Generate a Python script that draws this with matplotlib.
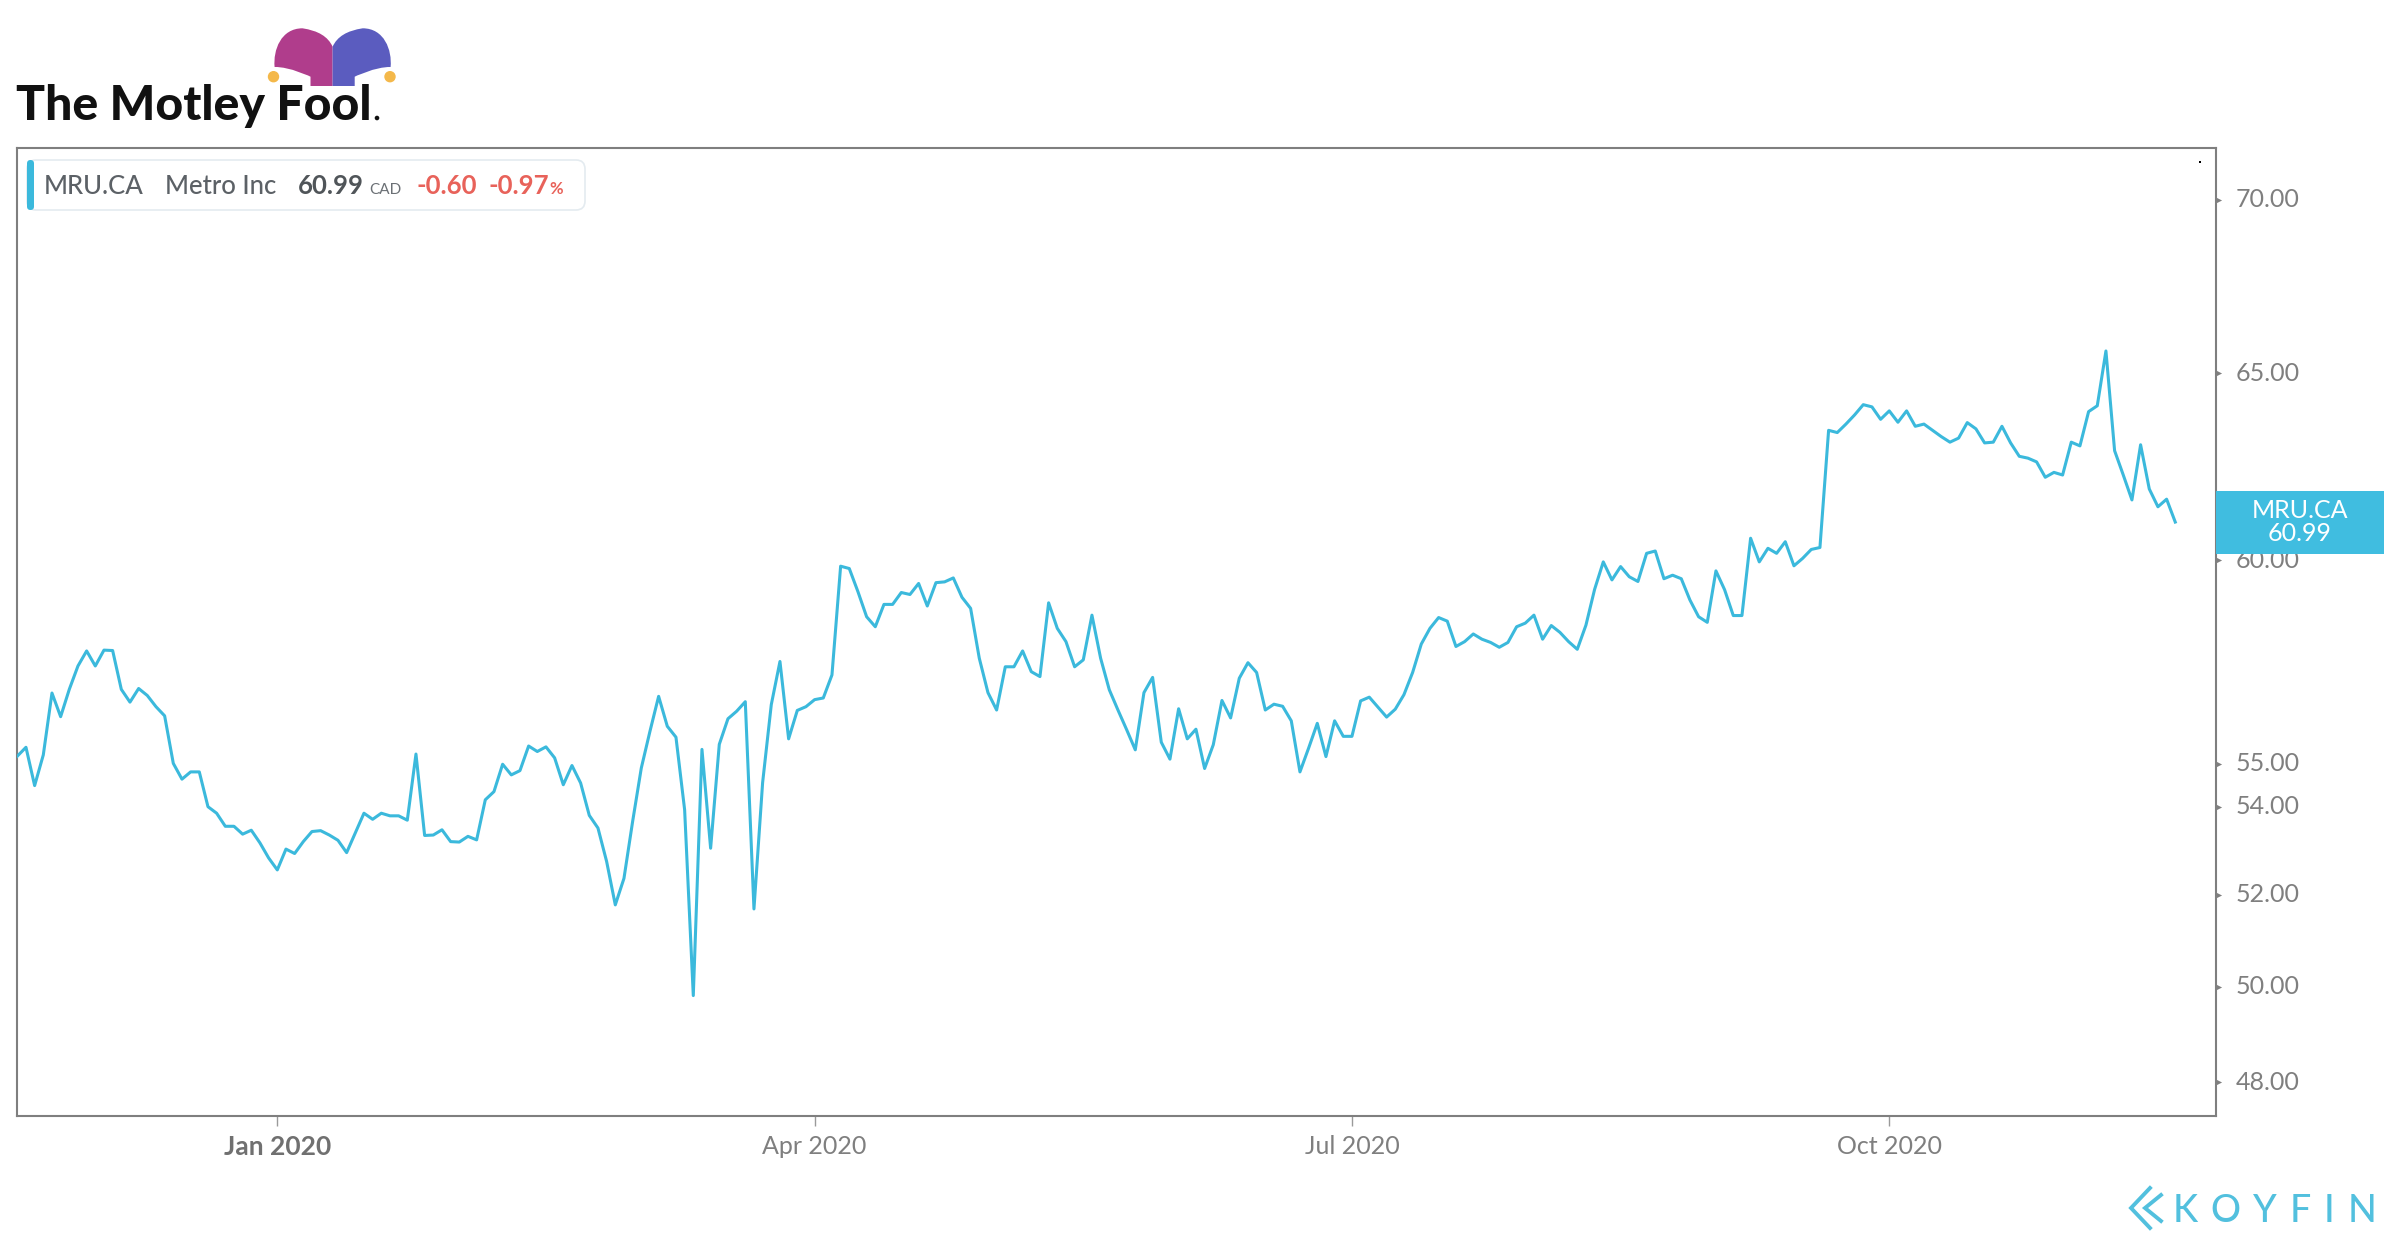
import numpy as np
import matplotlib
matplotlib.use("Agg")
import matplotlib.pyplot as plt
from matplotlib import transforms
from matplotlib.patches import FancyBboxPatch, Rectangle, PathPatch, Circle
from matplotlib.path import Path
from matplotlib.ticker import NullLocator, FixedLocator, FixedFormatter

# ---------------- data ----------------
ticker_symbol = "MRU.CA"
company = "Metro Inc"
currency = "CAD"
change = "-0.60"
change_pct = "-0.97"

close = [
    55.18, 55.39, 54.49, 55.21, 56.69, 56.12, 56.78, 57.35, 57.72, 57.35,
    57.74, 57.73, 56.78, 56.47, 56.80, 56.63, 56.36, 56.14, 55.01, 54.64,
    54.81, 54.81, 54.00, 53.85, 53.55, 53.55, 53.37, 53.46, 53.17, 52.83,
    52.56, 53.03, 52.93, 53.20, 53.43, 53.45, 53.35, 53.23, 52.95, 53.40,
    53.85, 53.71, 53.85, 53.79, 53.79, 53.69, 55.23, 53.34, 53.35, 53.47,
    53.20, 53.19, 53.32, 53.24, 54.16, 54.35, 54.99, 54.74, 54.84, 55.42,
    55.29, 55.40, 55.14, 54.51, 54.96, 54.55, 53.80, 53.51, 52.75, 51.78,
    52.37, 53.66, 54.90, 55.77, 56.61, 55.89, 55.63, 53.93, 49.81, 55.34,
    53.05, 55.46, 56.07, 56.25, 56.48, 51.69, 54.56, 56.41, 57.46, 55.59,
    56.27, 56.36, 56.53, 56.57, 57.13, 59.85, 59.79, 59.20, 58.57, 58.32,
    58.88, 58.88, 59.18, 59.13, 59.41, 58.84, 59.43, 59.45, 59.55, 59.06,
    58.78, 57.54, 56.70, 56.28, 57.33, 57.33, 57.72, 57.21, 57.09, 58.92,
    58.28, 57.95, 57.33, 57.50, 58.61, 57.54, 56.77, 56.28, 55.81, 55.33,
    56.70, 57.07, 55.51, 55.11, 56.31, 55.59, 55.82, 54.89, 55.45, 56.51,
    56.09, 57.05, 57.43, 57.19, 56.28, 56.42, 56.37, 56.02, 54.81, 55.37,
    55.96, 55.17, 56.02, 55.65, 55.65, 56.50, 56.59, 56.35, 56.11, 56.30,
    56.65, 57.19, 57.89, 58.28, 58.55, 58.46, 57.83, 57.95, 58.14, 58.01,
    57.93, 57.81, 57.93, 58.32, 58.41, 58.61, 58.01, 58.35, 58.18, 57.95,
    57.76, 58.36, 59.26, 59.96, 59.50, 59.84, 59.58, 59.46, 60.18, 60.24,
    59.53, 59.62, 59.53, 58.99, 58.57, 58.43, 59.73, 59.25, 58.60, 58.60,
    60.57, 59.96, 60.31, 60.18, 60.48, 59.86, 60.05, 60.28, 60.33, 63.43,
    63.37, 63.60, 63.85, 64.13, 64.07, 63.73, 63.96, 63.65, 63.96, 63.54,
    63.60, 63.43, 63.26, 63.11, 63.22, 63.64, 63.47, 63.09, 63.11, 63.54,
    63.09, 62.73, 62.68, 62.58, 62.17, 62.30, 62.23, 63.11, 63.01, 63.94,
    64.10, 65.62, 62.88, 62.23, 61.57, 63.04, 61.86, 61.39, 61.59, 60.99,
]

x_tick_index = [30, 92, 154, 216]
x_tick_labels = ["Jan 2020", "Apr 2020", "Jul 2020", "Oct 2020"]
y_ticks = [48, 50, 52, 54, 55, 60, 65, 70]

# ---------------- style ----------------
BLUE = "#3bb9dc"
GREY = "#7f7f7f"
RED = "#e8625a"
FONT = ["Lato", "DejaVu Sans"]
plt.rcParams["font.family"] = FONT

W, H = 2400, 1240
fig = plt.figure(figsize=(W / 100, H / 100), dpi=100)
fig.patch.set_facecolor("white")
# pixel coordinates, origin at top-left
px = transforms.Affine2D().scale(1 / W, -1 / H).translate(0, 1) + fig.transFigure

ax_l, ax_r, ax_t, ax_b = 17, 2216, 148, 1116
ax = fig.add_axes([ax_l / W, 1 - ax_b / H, (ax_r - ax_l) / W, (ax_b - ax_t) / H])

x = np.arange(len(close))
ax.plot(x, close, color=BLUE, lw=2.2, zorder=3)

ax.set_yscale("log")
ax.set_ylim(47.31, 71.57)
ax.set_xlim(-0.035, 253.7)

for s in ax.spines.values():
    s.set_color(GREY)
    s.set_linewidth(1.5)

# y axis on the right
ax.yaxis.tick_right()
ax.yaxis.set_major_locator(FixedLocator(y_ticks))
ax.yaxis.set_major_formatter(FixedFormatter([f"{v:.2f}" for v in y_ticks]))
ax.yaxis.set_minor_locator(NullLocator())
ax.tick_params(axis="y", which="both", length=0, pad=14, labelsize=18,
               labelcolor=GREY, left=False, right=False)
for lbl in ax.get_yticklabels():
    lbl.set_verticalalignment("center")
ax.scatter([1.0 + 3 / (ax_r - ax_l)] * len(y_ticks), y_ticks, marker=">", s=14,
           color=GREY, transform=ax.get_yaxis_transform(), clip_on=False,
           zorder=4, linewidths=0)

# x axis
ax.set_xticks(x_tick_index)
ax.set_xticklabels(x_tick_labels)
ax.tick_params(axis="x", length=7, width=1, color="#9a9a9a", pad=6.5,
               labelsize=18, labelcolor=GREY)
for lbl in ax.get_xticklabels():
    if lbl.get_text().startswith("Jan"):
        lbl.set_fontweight("bold")
        lbl.set_fontsize(19)
        lbl.set_color("#707070")

# last price tag on the right axis
last = close[-1]
tag_tr = fig.dpi_scale_trans + transforms.ScaledTranslation(1.0, last, ax.get_yaxis_transform())
ax.add_patch(Rectangle((0, -0.315), 1.68, 0.63, transform=tag_tr, facecolor="#40bde0",
                       edgecolor="none", clip_on=False, zorder=5))
ax.text(1.0 + 84 / (ax_r - ax_l), last, f"{ticker_symbol}\n{last:.2f}",
        transform=ax.get_yaxis_transform(), ha="center", va="center",
        color="white", fontsize=18, linespacing=1.0, zorder=6, clip_on=False)

# tiny dot top-right inside the chart
fig.add_artist(Rectangle((2199, 161), 2, 2, transform=px, facecolor="black",
                         edgecolor="none"))

# ---------------- info box ----------------
fig.add_artist(FancyBboxPatch((27, 160), 558, 50, boxstyle="round,pad=0,rounding_size=9",
                              transform=px, facecolor="white", edgecolor="#e4ebf0", lw=1.2))
fig.add_artist(FancyBboxPatch((27, 160), 7, 50, boxstyle="round,pad=0,rounding_size=3.5",
                              transform=px, facecolor=BLUE, edgecolor="none"))
base_y = 194
fig.text(44, base_y, ticker_symbol, transform=px, fontsize=18.5, color="#5c6166",
         fontweight="medium", va="baseline")
fig.text(165, base_y, company, transform=px, fontsize=18.5, color="#5c6166",
         fontweight="medium", va="baseline")
fig.text(298, base_y, f"{last:.2f}", transform=px, fontsize=18.5, color="#505559",
         fontweight="bold", va="baseline")
fig.text(369, base_y, currency, transform=px, fontsize=11, color="#6b7075", va="baseline")
fig.text(416, base_y, change, transform=px, fontsize=18.5, color=RED, fontweight="bold",
         va="baseline")
fig.text(489, base_y, change_pct, transform=px, fontsize=18.5, color=RED, fontweight="bold",
         va="baseline")
fig.text(549, base_y, "%", transform=px, fontsize=12, color=RED, fontweight="bold",
         va="baseline")

# ---------------- Motley Fool logo ----------------
fig.text(16, 120.5, "The Motley Fool", transform=px, fontsize=34.7, fontweight=900,
         color="#111111", va="baseline")
fig.add_artist(Circle((377, 118), 1.6, transform=px, color="#111111"))

def lobe(mirror):
    cx = 332.6
    pts = [(332.6, 86), (332.6, 46.7), (326, 31.7), (302.5, 28.3), (281, 28.3),
           (273, 50), (274.6, 67), (290, 66.7), (310.5, 76.7), (310.5, 76.7),
           (310.5, 86), (332.6, 86)]
    codes = [Path.MOVETO, Path.LINETO, Path.CURVE3, Path.CURVE3, Path.CURVE4,
             Path.CURVE4, Path.CURVE4, Path.CURVE4, Path.CURVE4, Path.CURVE4,
             Path.LINETO, Path.CLOSEPOLY]
    if mirror:
        pts = [(2 * cx - a, b) for a, b in pts]
    return Path(pts, codes)

fig.add_artist(PathPatch(lobe(False), transform=px, facecolor="#b03d8c", edgecolor="none"))
fig.add_artist(PathPatch(lobe(True), transform=px, facecolor="#5b5cbf", edgecolor="none"))
fig.add_artist(Circle((273.5, 76.7), 5, transform=px, color="#f4b84a"))
fig.add_artist(Circle((390, 76.7), 5, transform=px, color="#f4b84a"))

# ---------------- Koyfin logo ----------------
KBLUE = "#52c0de"
for (xa, ya), (xb, yb), (xc, yc) in [((2150, 1188), (2131, 1208), (2150, 1228)),
                                    ((2161, 1195), (2145, 1208), (2161, 1221))]:
    fig.add_artist(plt.Line2D([xa, xb, xc], [ya, yb, yc], transform=px, color=KBLUE,
                              lw=2.8, solid_joinstyle="miter"))
for ch, lx in zip("KOYFIN", [2173, 2210, 2253, 2290, 2324, 2348]):
    fig.text(lx, 1222, ch, transform=px, fontsize=27, color=KBLUE, fontweight="medium",
             va="baseline")

fig.savefig("out.png", dpi=100, facecolor="white")
